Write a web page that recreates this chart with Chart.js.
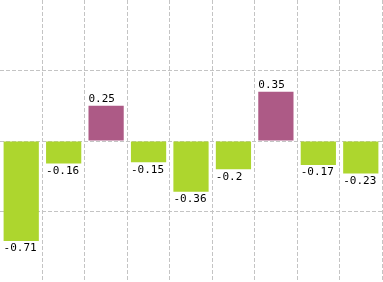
<!DOCTYPE html>
<html>
<head>
<meta charset="utf-8">
<script src="https://cdn.jsdelivr.net/npm/chart.js@4/dist/chart.umd.min.js"></script>
<style>
  html, body { margin: 0; padding: 0; background: #fff; }
  #wrap { width: 383px; height: 282px; position: relative; }
</style>
</head>
<body>
<div id="wrap"><canvas id="chartBars"></canvas></div>
<script>
var categories = ["1", "2", "3", "4", "5", "6", "7", "8", "9"];
var values = [-0.71, -0.16, 0.25, -0.15, -0.36, -0.2, 0.35, -0.17, -0.23];
var yTicks = [-1, -0.5, 0, 0.5, 1];

var colorPos = "#ad5a86";
var colorNeg = "#add62e";

// value labels: left aligned on the bar, above positive / below negative
var barLabels = {
  id: "barLabels",
  afterDatasetsDraw: function (chart) {
    var ctx = chart.ctx;
    var meta = chart.getDatasetMeta(0);
    ctx.save();
    ctx.font = "11px 'DejaVu Sans Mono', monospace";
    ctx.fillStyle = "#000";
    ctx.textAlign = "left";
    meta.data.forEach(function (bar, i) {
      var v = values[i];
      var left = bar.x - bar.width / 2;
      if (v >= 0) {
        ctx.textBaseline = "bottom";
        ctx.fillText(String(v), left, bar.y - 1);
      } else {
        ctx.textBaseline = "top";
        ctx.fillText(String(v), left, bar.y + 2);
      }
    });
    ctx.restore();
  },
};

const ctx = document.getElementById("chartBars").getContext("2d");
const chartBars = new Chart(ctx, {
  type: "bar",
  data: {
    labels: categories,
    datasets: [
      {
        data: values,
        backgroundColor: values.map(function (v) {
          return v >= 0 ? colorPos : colorNeg;
        }),
        barPercentage: 1,
        categoryPercentage: 0.83,
      },
    ],
  },
  options: {
    responsive: true,
    maintainAspectRatio: false,
    animation: false,
    layout: { padding: { left: 0, right: 1, top: 0, bottom: 0 } },
    plugins: {
      legend: { display: false },
      tooltip: { enabled: false },
    },
    scales: {
      x: {
        ticks: { display: false },
        border: { display: false, dash: [4, 2] },
        grid: {
          offset: true,
          drawTicks: false,
          color: function (c) {
            return c.index === 0 ? "rgba(0,0,0,0)" : "#c4c4c4";
          },
        },
      },
      y: {
        min: yTicks[0],
        max: yTicks[yTicks.length - 1],
        afterBuildTicks: function (axis) {
          axis.ticks = yTicks.map(function (t) {
            return { value: t };
          });
        },
        ticks: { display: false },
        border: { display: false, dash: [4, 2] },
        grid: {
          drawTicks: false,
          color: function (c) {
            var t = c.tick ? c.tick.value : 0;
            return Math.abs(t) === 1 ? "rgba(0,0,0,0)" : "#c4c4c4";
          },
        },
      },
    },
  },
  plugins: [barLabels],
});
</script>
</body>
</html>
